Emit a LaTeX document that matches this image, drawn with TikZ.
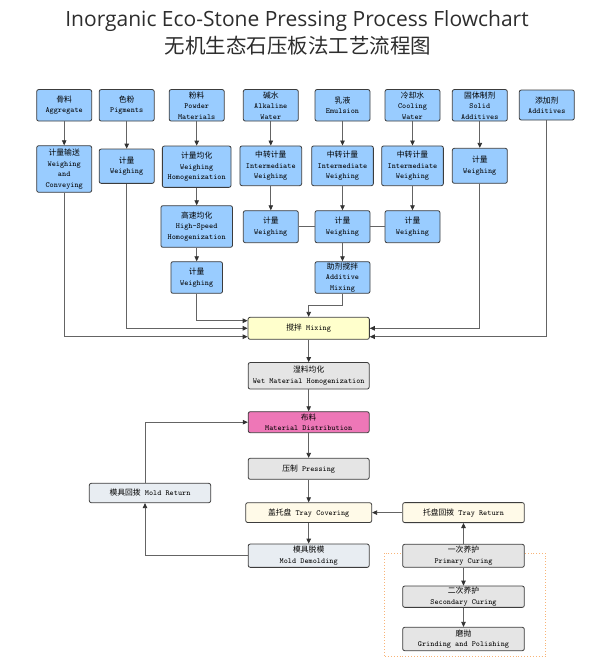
\documentclass[tikz,border=0pt]{standalone}
\usepackage{fontspec}
\newfontfamily\cjk{Noto Sans CJK SC}
\newfontfamily\titlefont{Open Sans}
\usetikzlibrary{arrows.meta,calc}
\newcommand{\zhtxt}[1]{{\cjk #1}}
\definecolor{boxblue}{RGB}{153,204,255}
\definecolor{boxborder}{RGB}{60,60,60}
\definecolor{mixyellow}{RGB}{255,255,204}
\definecolor{graybox}{RGB}{229,229,229}
\definecolor{pinkbox}{RGB}{238,119,183}
\definecolor{creambox}{RGB}{255,250,232}
\definecolor{bluegray}{RGB}{232,237,242}
\definecolor{linecol}{RGB}{100,100,100}
\definecolor{arrowcol}{RGB}{50,50,50}
\definecolor{textcol}{RGB}{0,0,0}
\definecolor{titlecol}{RGB}{45,45,45}
\definecolor{dotorange}{RGB}{248,180,120}
\tikzset{
  box/.style={draw=boxborder, line width=0.8pt, rounded corners=2pt, align=center,
    inner sep=0pt, text=textcol, font=\fontsize{7.8}{10.5}\selectfont\ttfamily},
  bluebox/.style={box, fill=boxblue},
  yellowbox/.style={box, fill=mixyellow},
  greybox/.style={box, fill=graybox},
  pinkb/.style={box, fill=pinkbox},
  creamb/.style={box, fill=creambox},
  bgbox/.style={box, fill=bluegray},
  sz/.style 2 args={minimum width=#1pt, minimum height=#2pt},
  conn/.style={draw=linecol, line width=0.8pt},
  arr/.style={conn, -{Triangle[length=5pt,width=4.5pt,color=arrowcol]}},
}
\begin{document}
\begin{tikzpicture}[x=1pt,y=-1pt]
\useasboundingbox (0,0) rectangle (612,665);
% titles
\node[font=\titlefont\fontsize{21}{24}\selectfont, text=titlecol] (title) at (297,21) {Inorganic Eco-Stone Pressing Process Flowchart};
\node[font=\cjk\fontsize{20.5}{24}\selectfont, text=titlecol] (subtitle) at (298,46) {无机生态石压板法工艺流程图};
% curing group frame
\draw[draw=dotorange, dotted, line width=0.9pt] (384,553.3) rectangle (545.7,656.7);
% row 1
\node[bluebox, sz={55}{31.5}] (agg) at (64.2,105.3) {\zhtxt{骨料}\\Aggregate};
\node[bluebox, sz={55}{31.5}] (pig) at (126.7,105.3) {\zhtxt{色粉}\\Pigments};
\node[bluebox, sz={55}{31.5}] (pow) at (196.7,105.3) {\zhtxt{粉料}\\Powder\\Materials};
\node[bluebox, sz={55}{31.5}] (alk) at (270.8,105.3) {\zhtxt{碱水}\\Alkaline\\Water};
\node[bluebox, sz={55}{31.5}] (emu) at (342.5,105.3) {\zhtxt{乳液}\\Emulsion};
\node[bluebox, sz={55}{31.5}] (coo) at (412.5,105.3) {\zhtxt{冷却水}\\Cooling\\Water};
\node[bluebox, sz={55}{31.5}] (sol) at (479.8,105.3) {\zhtxt{固体制剂}\\Solid\\Additives};
\node[bluebox, sz={55}{30}] (add) at (546.8,105) {\zhtxt{添加剂}\\Additives};
% row 2
\node[bluebox, sz={55}{46.6}] (w1) at (64.2,169) {\zhtxt{计量输送}\\Weighing\\and\\Conveying};
\node[bluebox, sz={55}{34.3}] (w2) at (126.7,166.2) {\zhtxt{计量}\\Weighing};
\node[bluebox, sz={68.7}{41.3}] (w3) at (196.7,166.7) {\zhtxt{计量均化}\\Weighing\\Homogenization};
\node[bluebox, sz={61.7}{39.7}] (iw1) at (270.8,165.8) {\zhtxt{中转计量}\\Intermediate\\Weighing};
\node[bluebox, sz={61.7}{39.7}] (iw2) at (342.5,165.8) {\zhtxt{中转计量}\\Intermediate\\Weighing};
\node[bluebox, sz={61.7}{39.7}] (iw3) at (412.5,165.8) {\zhtxt{中转计量}\\Intermediate\\Weighing};
\node[bluebox, sz={55}{35}] (sw) at (479.8,165.8) {\zhtxt{计量}\\Weighing};
% row 3
\node[bluebox, sz={71.6}{41.6}] (hs) at (196.7,226.5) {\zhtxt{高速均化}\\High-Speed\\Homogenization};
\node[bluebox, sz={55}{32}] (ww1) at (270.8,226.7) {\zhtxt{计量}\\Weighing};
\node[bluebox, sz={55}{32}] (ww2) at (342.5,226.7) {\zhtxt{计量}\\Weighing};
\node[bluebox, sz={55}{32}] (ww3) at (412.5,226.7) {\zhtxt{计量}\\Weighing};
% row 4
\node[bluebox, sz={51.6}{31.6}] (pw) at (196.7,277.5) {\zhtxt{计量}\\Weighing};
\node[bluebox, sz={55}{31.6}] (am) at (342.5,277.5) {\zhtxt{助剂搅拌}\\Additive\\Mixing};
% main line
\node[yellowbox, sz={121.3}{22}] (mix) at (308.7,328.3) {\zhtxt{搅拌} Mixing};
\node[greybox, sz={121}{26.5}] (wet) at (308.7,375.8) {\zhtxt{湿料均化}\\Wet Material Homogenization};
\node[pinkb, sz={121}{21}] (dist) at (308.7,422.2) {\zhtxt{布料}\\Material Distribution};
\node[greybox, sz={121}{21}] (press) at (308.7,468.8) {\zhtxt{压制} Pressing};
\node[creamb, sz={126}{19.8}] (tcov) at (308.7,512.6) {\zhtxt{盖托盘} Tray Covering};
\node[bgbox, sz={121}{23.3}] (demold) at (308.7,555.7) {\zhtxt{模具脱模}\\Mold Demolding};
\node[bgbox, sz={121.4}{19.4}] (mret) at (150,493) {\zhtxt{模具回拨} Mold Return};
\node[creamb, sz={121.6}{20}] (tret) at (463.5,512.6) {\zhtxt{托盘回拨} Tray Return};
\node[greybox, sz={121.6}{23}] (prim) at (463.5,555.8) {\zhtxt{一次养护}\\Primary Curing};
\node[greybox, sz={121.6}{21.3}] (sec) at (463.5,596.7) {\zhtxt{二次养护}\\Secondary Curing};
\node[greybox, sz={121.6}{23.4}] (grind) at (463.5,639) {\zhtxt{磨抛}\\Grinding and Polishing};
% connectors: top rows
\draw[arr] (agg) -- (w1);
\draw[arr] (pig) -- (w2);
\draw[arr] (pow) -- (w3);
\draw[arr] (alk) -- (iw1);
\draw[arr] (emu) -- (iw2);
\draw[arr] (coo) -- (iw3);
\draw[arr] (sol) -- (sw);
\draw[arr] (w3) -- (hs);
\draw[arr] (hs) -- (pw);
\draw[arr] (iw1) -- (ww1);
\draw[arr] (iw2) -- (ww2);
\draw[arr] (iw3) -- (ww3);
\draw[conn] (ww1) -- (ww2);
\draw[conn] (ww2) -- (ww3);
\draw[arr] (ww2) -- (am);
% into mixing
\draw[arr] (am.south) -- ($(am.south)+(0,11.7)$) -| (mix.north);
\draw[arr] (pw.south) |- ($(mix.west)+(0,-7.6)$);
\draw[arr] (w2.south) |- (mix.west);
\draw[arr] (w1.south) |- ($(mix.west)+(0,8.4)$);
\draw[arr] (sw.south) |- (mix.east);
\draw[arr] (add.south) |- ($(mix.east)+(0,8.4)$);
% main flow
\draw[arr] (mix) -- (wet);
\draw[arr] (wet) -- (dist);
\draw[arr] (dist) -- (press);
\draw[arr] (press) -- (tcov);
\draw[arr] (tcov) -- (demold);
\draw[arr] (demold.west) -| ($(mret.south)+(-5,0)$);
\draw[arr] ($(mret.north)+(-5,0)$) |- (dist.west);
\draw[arr] (tret) -- (tcov);
\draw[arr] (prim) -- (tret);
\draw[arr] (prim) -- (sec);
\draw[arr] (sec) -- (grind);
\end{tikzpicture}
\end{document}
